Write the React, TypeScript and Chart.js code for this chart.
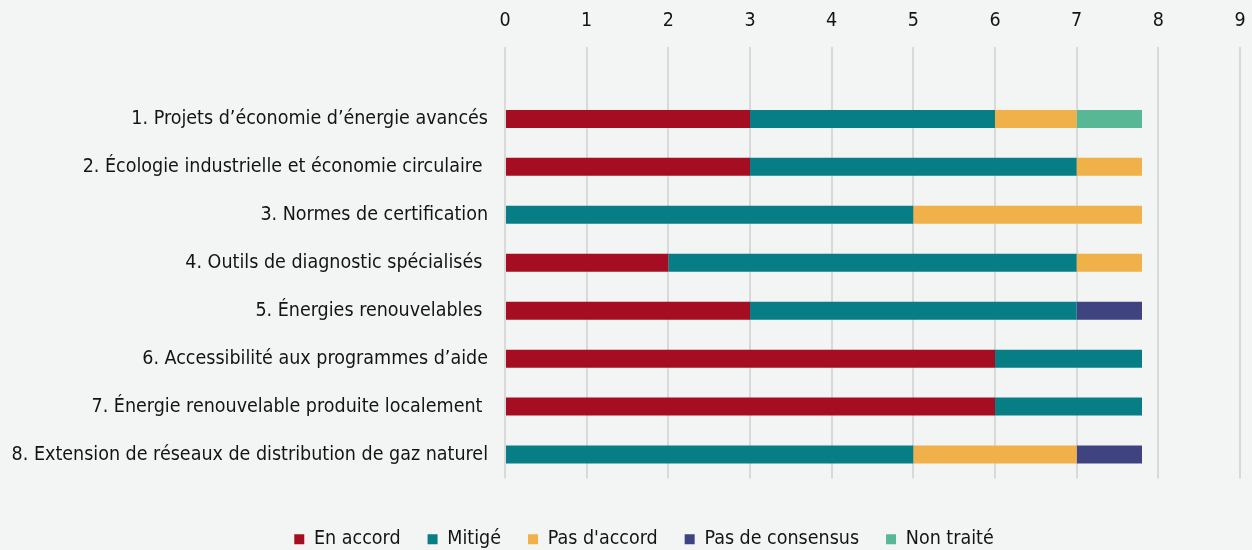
import React, { useEffect, useRef } from 'react';
import { Chart, registerables } from 'chart.js';

Chart.register(...registerables);

const categories = [
  '1. Projets d’économie d’énergie avancés',
  '2. Écologie industrielle et économie circulaire ',
  '3. Normes de certification',
  '4. Outils de diagnostic spécialisés ',
  '5. Énergies renouvelables ',
  '6. Accessibilité aux programmes d’aide',
  '7. Énergie renouvelable produite localement ',
  '8. Extension de réseaux de distribution de gaz naturel',
];

const seriesNames = ['En accord', 'Mitigé', "Pas d'accord", 'Pas de consensus', 'Non traité'];
const enAccord = [3, 3, 0, 2, 3, 6, 6, 0];
const mitige = [3, 4, 5, 5, 4, 1.8, 1.8, 5];
const pasDAccord = [1, 0.8, 2.8, 0.8, 0, 0, 0, 2];
const pasDeConsensus = [0, 0, 0, 0, 0.8, 0, 0, 0.8];
const nonTraite = [0.8, 0, 0, 0, 0, 0, 0, 0];
const seriesColors = ['#a50e22', '#077d85', '#f0b04a', '#3f4380', '#58b794'];

const xMin = 0;
const xMax = 9;
const xStep = 1;

const FONT = "'Liberation Sans Narrow', 'DejaVu Sans Condensed', 'Arial Narrow', sans-serif";
const BG = '#f3f5f4';

export default function App() {
  const ref = useRef<HTMLCanvasElement | null>(null);

  useEffect(() => {
    document.body.style.margin = '0';
    document.body.style.background = BG;
    const canvas = ref.current;
    if (!canvas) return;

    const allSeries = [enAccord, mitige, pasDAccord, pasDeConsensus, nonTraite];
    // leading empty category reproduces the blank band at the top of the plot
    const labels = ['', ...categories];

    const legendShift = {
      id: 'legendShift',
      afterLayout(chart: any) {
        const l = chart.legend;
        if (l) {
          l.top += 24;
          l.bottom += 24;
          l.left += 24;
          l.right += 24;
        }
      },
    };

    const chart = new Chart(canvas, {
      type: 'bar',
      data: {
        labels,
        datasets: allSeries.map((vals, i) => ({
          label: seriesNames[i],
          data: [null, ...vals],
          backgroundColor: seriesColors[i],
          borderWidth: 0,
          barPercentage: 0.375,
          categoryPercentage: 1,
        })),
      },
      options: {
        indexAxis: 'y',
        responsive: false,
        animation: false,
        maintainAspectRatio: false,
        layout: { padding: { top: 0, left: 0, right: 12, bottom: 15 } },
        scales: {
          x: {
            position: 'top',
            stacked: true,
            min: xMin,
            max: xMax,
            ticks: {
              stepSize: xStep,
              color: '#141414',
              font: { family: FONT, size: 19.5 },
              padding: 14,
            },
            grid: { color: '#d9d9d9', lineWidth: 2, drawTicks: false },
            border: { display: false },
            afterFit(scale: any) {
              scale.height = 47;
              scale.paddingLeft = 0;
              scale.paddingRight = 0;
            },
          },
          y: {
            stacked: true,
            ticks: {
              color: '#141414',
              font: { family: FONT, size: 19.5 },
              padding: 17,
              autoSkip: false,
            },
            grid: { display: false, drawTicks: false },
            border: { display: false },
            afterFit(scale: any) {
              scale.width = 505;
            },
          },
        },
        plugins: {
          legend: {
            position: 'bottom',
            labels: {
              boxWidth: 10,
              boxHeight: 10,
              padding: 27,
              color: '#141414',
              font: { family: FONT, size: 19.5 },
            },
          },
          tooltip: { enabled: false },
        },
      },
      plugins: [legendShift],
    });

    return () => chart.destroy();
  }, []);

  return (
    <div style={{ width: 1252, height: 550, background: BG }}>
      <canvas ref={ref} width={1252} height={550} style={{ display: 'block' }} />
    </div>
  );
}
